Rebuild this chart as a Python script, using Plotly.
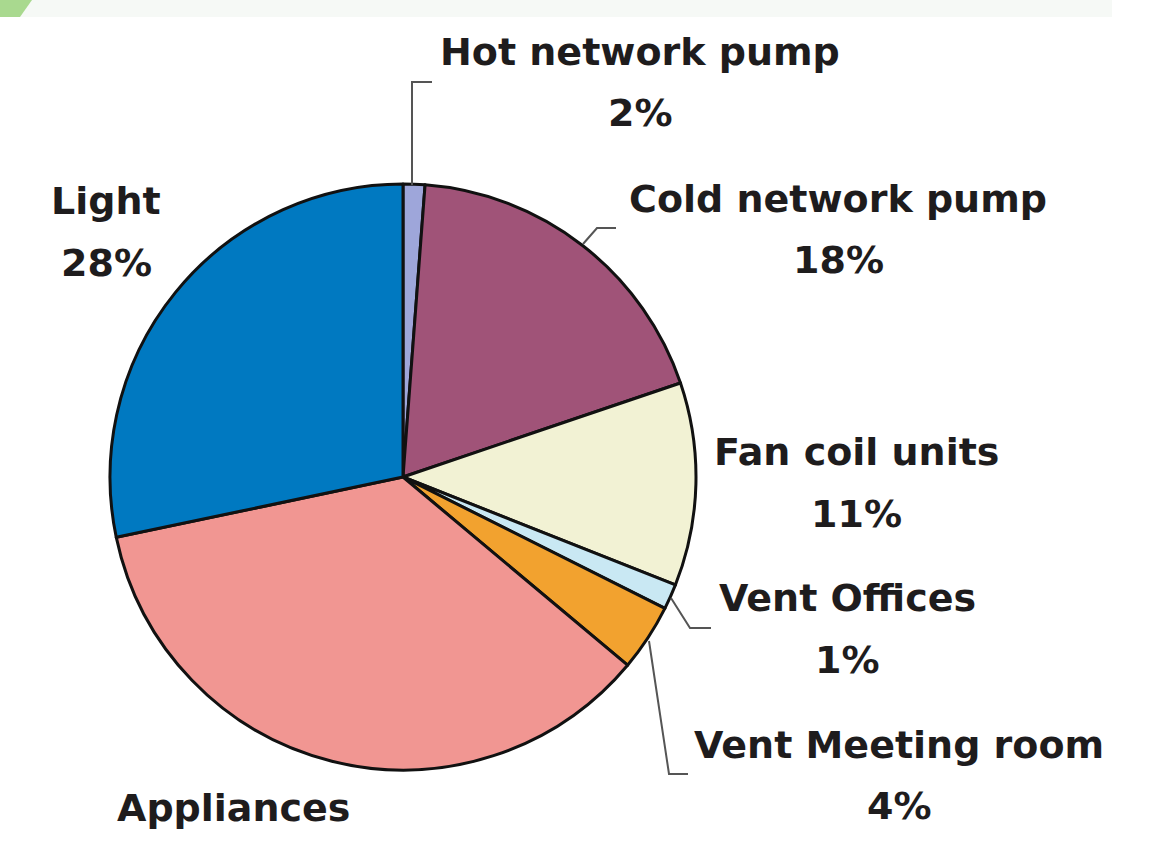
import plotly.graph_objects as go

W, H = 1161, 843

labels = ["Hot network pump", "Cold network pump", "Fan coil units", "Vent Offices",
          "Vent Meeting room", "Appliances", "Light"]
values = [1.2, 18.6, 11.2, 1.4, 3.7, 35.6, 28.3]
pct_text = ["2%", "18%", "11%", "1%", "4%", "", "28%"]
colors = ["#9ea6da", "#a05378", "#f2f2d4", "#c9e8f3", "#f2a22f", "#f19692", "#0079c1"]

# label placement (pixels): name line centre, percent line centre
label_pos = {
    "Hot network pump": (640, 52, 113),
    "Cold network pump": (838, 199, 260),
    "Fan coil units": (856, 452, 514),
    "Vent Offices": (847, 598, 660),
    "Vent Meeting room": (899, 745, 806),
    "Appliances": (233, 808, None),
    "Light": (106, 201, 263),
}

# leader lines (pixels)
leaders = [
    [(412, 185), (412, 82), (432, 82)],
    [(583, 244), (597, 228), (616, 228)],
    [(671, 598), (690, 628), (711, 628)],
    [(649, 641), (669, 774), (688, 774)],
]

cx, cy, r = 403, 477, 293


def px(x):
    return x / W


def py(y):
    return 1 - y / H


fig = go.Figure(go.Pie(
    labels=labels, values=values, sort=False, direction="clockwise", rotation=0,
    marker=dict(colors=colors, line=dict(color="#111111", width=3)),
    textinfo="none", hoverinfo="label+percent",
    domain=dict(x=[px(cx - r), px(cx + r)], y=[py(cy + r), py(cy - r)]),
    showlegend=False,
))

font = dict(family="DejaVu Sans, Liberation Sans, Arial, sans-serif", size=38,
            color="#1e1c1d", weight="bold")
ann = []
for lab, pt in zip(labels, pct_text):
    x, y1, y2 = label_pos[lab]
    ann.append(dict(x=px(x), y=py(y1), xref="paper", yref="paper", text=lab, showarrow=False,
                    xanchor="center", yanchor="middle", font=font))
    if y2 is not None and pt:
        ann.append(dict(x=px(x), y=py(y2), xref="paper", yref="paper", text=pt, showarrow=False,
                        xanchor="center", yanchor="middle", font=font))

shapes = []
for pts in leaders:
    path = "M " + " L ".join(f"{px(x)},{py(y)}" for x, y in pts)
    shapes.append(dict(type="path", xref="paper", yref="paper", path=path,
                       line=dict(color="#555555", width=2)))

# faint banner remnant at the top
shapes.append(dict(type="rect", xref="paper", yref="paper", x0=0, x1=px(1112), y0=py(17), y1=1,
                   fillcolor="#f6f9f6", line=dict(width=0), layer="below"))
shapes.append(dict(type="path", xref="paper", yref="paper",
                   path=f"M 0,1 L {px(32)},1 L {px(20)},{py(17)} L 0,{py(17)} Z",
                   fillcolor="#a9d98f", line=dict(width=0), layer="below"))

fig.update_layout(
    width=W, height=H, margin=dict(l=0, r=0, t=0, b=0),
    paper_bgcolor="white", plot_bgcolor="white",
    annotations=ann, shapes=shapes,
)

fig.write_html("out.html", include_plotlyjs=True)
